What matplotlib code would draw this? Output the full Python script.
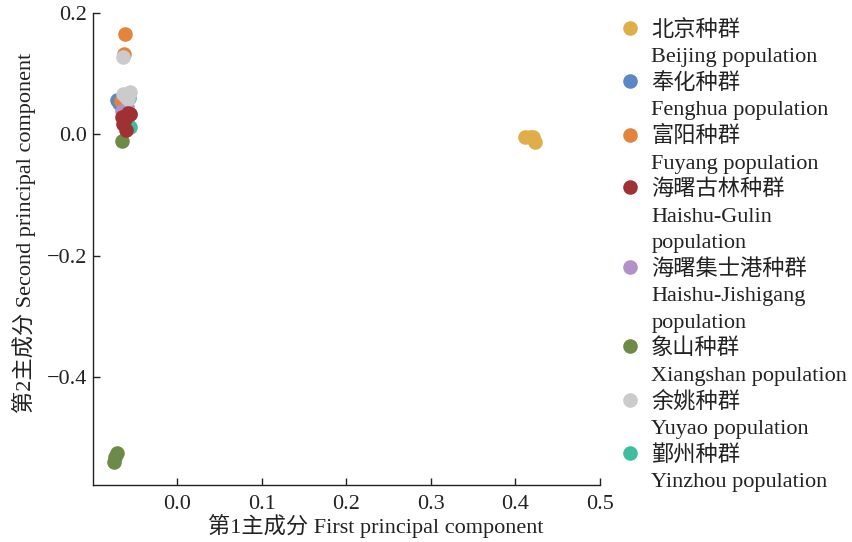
import matplotlib
matplotlib.use('Agg')
import matplotlib.pyplot as plt
from matplotlib.lines import Line2D
from matplotlib.ticker import FuncFormatter

plt.rcParams['font.family'] = ['Liberation Serif', 'Noto Sans CJK SC']

# population names: Chinese line, then English line(s)
names_cn = ['北京种群', '奉化种群', '富阳种群', '海曙古林种群',
            '海曙集士港种群', '象山种群', '余姚种群', '鄞州种群']
names_en = [
    ['Beijing population'],
    ['Fenghua population'],
    ['Fuyang population'],
    ['Haishu-Gulin', 'population'],
    ['Haishu-Jishigang', 'population'],
    ['Xiangshan population'],
    ['Yuyao population'],
    ['Yinzhou population'],
]
colors = ['#E0AE48', '#5A87C6', '#E4843A', '#A13033',
          '#B291C6', '#6E8A47', '#CBCBCB', '#3DBE9F']

# PC1 / PC2 scores per population
pc1 = [
    [0.412, 0.418, 0.421, 0.424],
    [-0.072, -0.069],
    [-0.062, -0.063, -0.067],
    [-0.066, -0.062, -0.058, -0.056, -0.064, -0.061],
    [-0.066, -0.056, -0.065, -0.060],
    [-0.072, -0.074, -0.075, -0.066],
    [-0.064, -0.065, -0.058, -0.061, -0.056],
    [-0.056, -0.057, -0.060],
]
pc2 = [
    [-0.004, -0.004, -0.005, -0.012],
    [0.056, 0.051],
    [0.165, 0.132, 0.055],
    [0.028, 0.025, 0.036, 0.033, 0.017, 0.007],
    [0.038, 0.033, 0.028, 0.045],
    [-0.525, -0.532, -0.540, -0.011],
    [0.127, 0.066, 0.058, 0.062, 0.070],
    [0.012, 0.060, 0.020],
]
zorders = [2, 2, 2, 4, 3, 2, 3, 2]

ink = '#222222'

fig = plt.figure(figsize=(8.53, 5.42), dpi=100)
ax = fig.add_axes([0.109, 0.105, 0.594, 0.871])

for x, y, c, z in zip(pc1, pc2, colors, zorders):
    ax.scatter(x, y, s=110, color=c, linewidths=0, zorder=z)

ax.set_xlim(-0.1, 0.5)
ax.set_ylim(-0.578, 0.2)
ax.set_xticks([0.0, 0.1, 0.2, 0.3, 0.4, 0.5])
ax.set_yticks([-0.4, -0.2, 0.0, 0.2])
fmt = FuncFormatter(lambda v, pos: f'{v:.1f}'.replace('-', '\u2212'))
ax.xaxis.set_major_formatter(fmt)
ax.yaxis.set_major_formatter(fmt)
ax.spines['top'].set_visible(False)
ax.spines['right'].set_visible(False)
for s in ['left', 'bottom']:
    ax.spines[s].set_linewidth(1.0)
    ax.spines[s].set_color(ink)
ax.tick_params(direction='in', length=5, width=1.0, labelsize=16,
               colors=ink)
ax.tick_params(axis='x', pad=7)
ax.tick_params(axis='y', pad=4)

ax.set_xlabel('第1主成分 First principal component', fontsize=16, color=ink)
ax.set_ylabel('第2主成分 Second principal component', fontsize=16, color=ink)
ax.xaxis.set_label_coords(0.558, -0.062)
ax.yaxis.set_label_coords(-0.112, 0.534)

# legend: marker on the Chinese row, English rows without a marker
handles, texts = [], []
for cn, en, c in zip(names_cn, names_en, colors):
    handles.append(Line2D([], [], ls='', marker='o', markersize=10.5,
                          markeredgewidth=0, color=c))
    texts.append(cn)
    for line in en:
        handles.append(Line2D([], [], ls='', marker=None))
        texts.append(line)

leg = fig.legend(handles, texts, loc='upper left',
                 bbox_to_anchor=(0.712, 0.976), frameon=False,
                 fontsize=16, handletextpad=0.28, handlelength=1.4,
                 labelspacing=0.264, borderaxespad=0, borderpad=0.3)
for t in leg.get_texts():
    t.set_color(ink)

fig.savefig('out.png', dpi=100)
